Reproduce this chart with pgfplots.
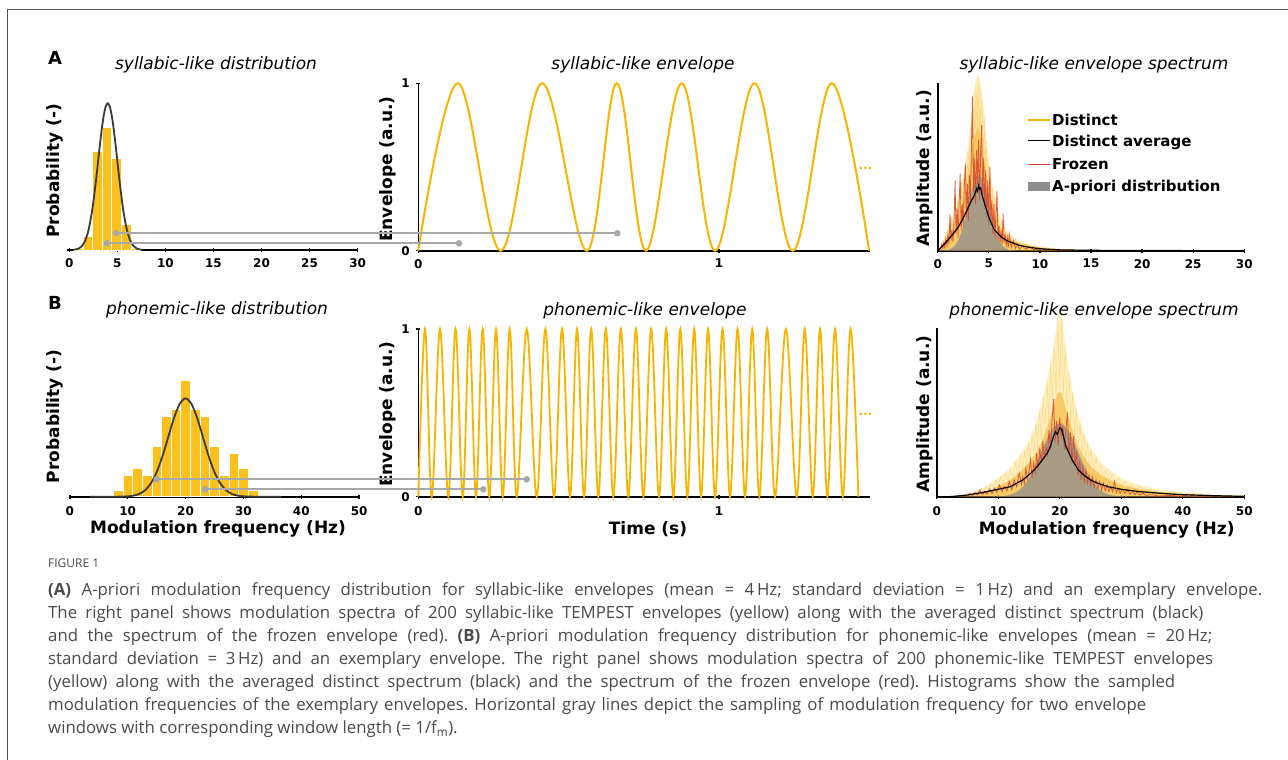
\documentclass[border=0pt]{standalone}
\usepackage{fontspec}
\setmainfont{DejaVu Sans}
\newfontfamily\capfont{Open Sans}
\usepackage{pgfplots}
\pgfplotsset{compat=1.18}
\definecolor{baryel}{HTML}{FBC01B}
\definecolor{envyel}{HTML}{F8B500}
\definecolor{gausscol}{HTML}{3A3A3A}
\definecolor{grayln}{HTML}{A8A8A8}
\definecolor{frozen}{HTML}{D5462B}
\definecolor{apriori}{HTML}{8E8E8E}
\definecolor{glow}{HTML}{FFD34E}
\definecolor{core}{HTML}{F4AE22}
\definecolor{streak}{HTML}{F9C23C}
\definecolor{capgray}{HTML}{4A4A4A}
\definecolor{framecol}{HTML}{555555}
\newcommand{\tickf}{\bfseries\fontsize{12}{14}\selectfont}
\newcommand{\labf}{\bfseries\fontsize{17}{20}\selectfont}
\newcommand{\titf}{\itshape\fontsize{17}{20}\selectfont}
\newcommand{\legf}{\bfseries\fontsize{15}{18}\selectfont}
\newcommand{\capf}{\capfont\fontsize{16.8}{19}\selectfont\color{capgray}\frenchspacing}
\pgfplotsset{
  base/.style={scale only axis, clip=false,
    tick style={line width=1.3pt, black},
    tick align=inside, major tick length=4pt,
    tick label style={font=\tickf},
    /pgf/number format/assume math mode=true},
  noarrow/.style={axis line style={line width=1.6pt, black, -},
    every outer x axis line/.append style={-},
    every outer y axis line/.append style={-},
    every inner x axis line/.append style={-},
    every inner y axis line/.append style={-},
    x axis line style={-}, y axis line style={-}},
}
\begin{document}
\begin{tikzpicture}
\fill[white] (0,0) rectangle (1288pt,-760pt);
\draw[framecol, line width=1pt] (7.5pt,-762pt) -- (7.5pt,-10pt) -- (1292pt,-10pt);

% panel letters and titles
\node[font=\bfseries\fontsize{18}{20}\selectfont] at (55pt,-58pt) {A};
\node[font=\bfseries\fontsize{18}{20}\selectfont] at (55pt,-303pt) {B};
\node[font=\titf] at (216pt,-65pt) {syllabic-like distribution};
\node[font=\titf] at (643pt,-65pt) {syllabic-like envelope};
\node[font=\titf] at (1094pt,-65pt) {syllabic-like envelope spectrum};
\node[font=\titf] at (217pt,-310pt) {phonemic-like distribution};
\node[font=\titf] at (645pt,-311pt) {phonemic-like envelope};
\node[font=\titf] at (1094pt,-311pt) {phonemic-like envelope spectrum};
% axis labels
\node[font=\labf, rotate=90] at (55pt,-170.8pt) {Probability (-)};
\node[font=\labf, rotate=90] at (388.3pt,-169pt) {Envelope (a.u.)};
\node[font=\labf, rotate=90] at (925pt,-168.3pt) {Amplitude (a.u.)};
\node[font=\labf, rotate=90] at (55pt,-416.3pt) {Probability (-)};
\node[font=\labf, rotate=90] at (388.3pt,-414pt) {Envelope (a.u.)};
\node[font=\labf, rotate=90] at (925pt,-414pt) {Amplitude (a.u.)};
\node[font=\labf] at (218pt,-529.3pt) {Modulation frequency (Hz)};
\node[font=\labf] at (648pt,-529.3pt) {Time (s)};
\node[font=\labf] at (1106.7pt,-530pt) {Modulation frequency (Hz)};
\node[font=\bfseries\fontsize{12}{14}\selectfont, text=envyel, anchor=base] at (865.5pt,-169pt) {...};
\node[font=\bfseries\fontsize{12}{14}\selectfont, text=envyel, anchor=base] at (865.5pt,-415.3pt) {...};

% ---------- A histogram
\begin{axis}[base, at={(66.7pt,-250pt)}, anchor=south west, width=291.6pt, height=170pt,
  xmin=-0.27, xmax=30.07, ymin=0, ymax=170, axis x line=bottom, axis y line=none, noarrow,
  xtick={0,5,...,30}, ytick=\empty, xticklabel style={yshift=-3pt}]
\addplot[ybar interval, fill=baryel, draw=white, line width=0.6pt] coordinates {
 (0.42,1.7) (1.42,13.3) (2.42,99) (3.42,122.7) (4.42,91.7) (5.42,25.7) (6.42,1.7) (7.42,1.7)};
\addplot[gausscol, line width=1.8pt, smooth] coordinates {
 (0.4,0.22) (0.8,0.88) (1.2,2.91) (1.6,8.24) (2.0,19.85) (2.4,40.8) (2.8,71.4) (3.0,89.0)
 (3.2,106.5) (3.4,122.5) (3.6,135.4) (3.8,143.8) (4.0,146.7) (4.2,143.8) (4.4,135.4)
 (4.6,122.5) (4.8,106.5) (5.0,89.0) (5.2,71.4) (5.6,40.8) (6.0,19.85) (6.4,8.24)
 (6.8,2.91) (7.2,0.88) (7.6,0.22)};
\end{axis}

% ---------- B histogram
\begin{axis}[base, at={(69.3pt,-496.7pt)}, anchor=south west, width=290.7pt, height=170pt,
  xmin=-0.1, xmax=50.15, ymin=0, ymax=170, axis x line=bottom, axis y line=none, noarrow,
  xtick={0,10,...,50}, ytick=\empty, xticklabel style={yshift=-4.5pt}]
\addplot[ybar interval, fill=baryel, draw=white, line width=0.6pt] coordinates {
 (7.5,6.7) (9.17,21.7) (10.83,28.3) (12.5,21.7) (14.17,50.7) (15.83,80) (17.5,87.3)
 (19.17,116.7) (20.83,87.3) (22.5,80) (24.17,50.7) (25.83,21.7) (27.5,43.3)
 (29.17,28.3) (30.83,6.7) (32.5,6.7)};
\addplot[gausscol, line width=1.8pt, smooth] coordinates {
 (3.5,0) (6,0.005) (8,0.03) (9,0.12) (10,0.38) (11,1.09) (12,2.81) (13,6.46) (14,13.3)
 (15,24.5) (16,40.4) (17,59.6) (18,78.7) (19,93.0) (20,98.3) (21,93.0) (22,78.7)
 (23,59.6) (24,40.4) (25,24.5) (26,13.3) (27,6.46) (28,2.81) (29,1.09) (30,0.38)
 (31,0.12) (32,0.03) (34,0.005) (36.5,0)};
\end{axis}

% ---------- A envelope
\begin{axis}[base, at={(418.3pt,-250.7pt)}, anchor=south west, width=451.7pt, height=167.4pt,
  xmin=0, xmax=1.502, ymin=0, ymax=1, axis x line=bottom, axis y line=left, noarrow,
  xtick={0,1}, ytick={0,1}, xticklabel style={yshift=-3pt}, yticklabel style={xshift=-3pt}]
\addplot[envyel, line width=2pt, smooth, tension=0.6] coordinates {
 (0,0) (0.131,1) (0.274,0) (0.412,1) (0.560,0) (0.660,1) (0.757,0) (0.876,1)
 (0.987,0) (1.118,1) (1.245,0) (1.375,1) (1.499,0)};
\addplot[grayln, line width=1.8pt, mark=*, mark size=2.3pt, mark options={fill=grayln, draw=grayln}]
 coordinates {(-1.005,0.104) (0.6618,0.104)};
\addplot[grayln, line width=1.8pt, mark=*, mark size=2.3pt, mark options={fill=grayln, draw=grayln}]
 coordinates {(-1.0363,0.0442) (0.1354,0.0442)};
\end{axis}

% ---------- B envelope
\begin{axis}[base, at={(418.3pt,-496.7pt)}, anchor=south west, width=451.7pt, height=167.7pt,
  xmin=0, xmax=1.502, ymin=0, ymax=1, axis x line=bottom, axis y line=left, noarrow,
  xtick={0,1}, ytick={0,1}, xticklabel style={yshift=-4.5pt}, yticklabel style={xshift=-3pt}]
\addplot[envyel, line width=1.8pt, smooth, tension=0.6] coordinates {
 (0,0) (0.0223,1) (0.0446,0) (0.0722,1) (0.0998,0) (0.1238,1) (0.1477,0) (0.1698,1)
 (0.1919,0) (0.2140,1) (0.2361,0) (0.2584,1) (0.2807,0) (0.3040,1) (0.3272,0) (0.3605,1)
 (0.3937,0) (0.4225,1) (0.4513,0) (0.4779,1) (0.5045,0) (0.5278,1) (0.5511,0) (0.5749,1)
 (0.5986,0) (0.6236,1) (0.6485,0) (0.6735,1) (0.6984,0) (0.7234,1) (0.7483,0) (0.7744,1)
 (0.8005,0) (0.8243,1) (0.8480,0) (0.8713,1) (0.8946,0) (0.9174,1) (0.9402,0) (0.9635,1)
 (0.9867,0) (1.0117,1) (1.0366,0) (1.0616,1) (1.0865,0) (1.1103,1) (1.1340,0) (1.1601,1)
 (1.1862,0) (1.2223,1) (1.2584,0) (1.2850,1) (1.3116,0) (1.3359,1) (1.3602,0) (1.3858,1)
 (1.4114,0) (1.4374,1) (1.4633,0)};
\addplot[grayln, line width=1.8pt, mark=*, mark size=2.3pt, mark options={fill=grayln, draw=grayln}]
 coordinates {(-0.870,0.1038) (0.3605,0.1038)};
\addplot[grayln, line width=1.8pt, mark=*, mark size=2.3pt, mark options={fill=grayln, draw=grayln}]
 coordinates {(-0.7093,0.0441) (0.2162,0.0441)};
\end{axis}

% ---------- A spectrum
\begin{axis}[base, at={(937.7pt,-250.7pt)}, anchor=south west, width=306.6pt, height=167.4pt,
  xmin=0, xmax=30, ymin=0, ymax=1, axis x line=bottom, axis y line=left, noarrow,
  xtick={0,5,...,30}, ytick=\empty, xticklabel style={yshift=-3pt}]
\addplot[fill=glow, fill opacity=0.35, draw=none] coordinates {
 (0,0) (0.5,0.06) (1,0.14) (1.5,0.22) (2,0.32) (2.5,0.45) (3,0.62) (3.3,0.8) (3.6,0.97)
 (3.9,1.06) (4.2,1.0) (4.5,0.85) (4.8,0.65) (5.2,0.45) (5.6,0.32) (6,0.22) (6.5,0.15)
 (7,0.1) (8,0.06) (9,0.04) (10,0.027) (11,0.018) (12,0.012) (14,0.006) (17,0.003)
 (20,0.001) (25,0)} \closedcycle;
\addplot[streak, line width=0.6pt, opacity=0.5] coordinates {
 (0.55,0.05) (0.65,0.02) (0.75,0.09) (0.85,0.04) (0.95,0.12) (1.05,0.05) (1.15,0.14)
 (1.25,0.07) (1.35,0.2) (1.45,0.09) (1.55,0.18) (1.65,0.1) (1.75,0.27) (1.85,0.13)
 (1.95,0.3) (2.05,0.15) (2.15,0.36) (2.25,0.18) (2.35,0.42) (2.45,0.2) (2.55,0.44)
 (2.65,0.25) (2.75,0.55) (2.85,0.3) (2.95,0.6) (3.05,0.35) (3.15,0.7) (3.25,0.4)
 (3.35,0.8) (3.45,0.5) (3.55,0.95) (3.65,0.55) (3.75,1.0) (3.85,0.6) (3.95,1.04)
 (4.05,0.62) (4.15,0.98) (4.25,0.55) (4.35,0.9) (4.45,0.5) (4.55,0.8) (4.65,0.42)
 (4.75,0.66) (4.85,0.35) (4.95,0.55) (5.05,0.28) (5.15,0.46) (5.25,0.22) (5.35,0.38)
 (5.45,0.2) (5.55,0.32) (5.65,0.15) (5.75,0.27) (5.85,0.13) (5.95,0.22) (6.1,0.1)
 (6.25,0.17) (6.4,0.08) (6.55,0.14) (6.7,0.06) (6.85,0.1) (7.0,0.05) (7.2,0.08)
 (7.4,0.04) (7.6,0.065) (7.8,0.03) (8.0,0.05) (8.3,0.025) (8.6,0.04) (9.0,0.02)
 (9.5,0.03) (10,0.01)};
\addplot[fill=core, fill opacity=0.55, draw=none] coordinates {
 (0,0) (0.5,0.04) (1,0.09) (1.5,0.14) (2,0.21) (2.5,0.3) (3,0.42) (3.3,0.55) (3.6,0.68)
 (3.9,0.74) (4.2,0.68) (4.5,0.56) (4.8,0.43) (5.2,0.3) (5.6,0.21) (6,0.15) (6.5,0.1)
 (7,0.07) (8,0.045) (9,0.03) (10,0.02) (12,0.009) (15,0.003) (20,0)} \closedcycle;
\addplot[fill=apriori, fill opacity=0.75, draw=none, smooth] coordinates {
 (0.6,0.001) (0.8,0.0027) (1.2,0.009) (1.6,0.0254) (2.0,0.0612) (2.4,0.1257) (2.8,0.22)
 (3.0,0.274) (3.2,0.328) (3.4,0.3776) (3.6,0.4172) (3.8,0.443) (4.0,0.452) (4.2,0.443)
 (4.4,0.4172) (4.6,0.3776) (4.8,0.328) (5.0,0.274) (5.2,0.22) (5.6,0.1257) (6.0,0.0612)
 (6.4,0.0254) (6.8,0.009) (7.2,0.0027) (7.4,0.001)} \closedcycle;
\addplot[frozen, line width=0.8pt, opacity=0.85] coordinates {
 (0.3,0.01) (0.4,0.04) (0.5,0.015) (0.6,0.05) (0.7,0.02) (0.8,0.07) (0.9,0.03) (1.0,0.09)
 (1.1,0.04) (1.2,0.22) (1.3,0.06) (1.4,0.12) (1.5,0.05) (1.6,0.18) (1.7,0.42) (1.8,0.10)
 (1.9,0.25) (2.0,0.08) (2.1,0.30) (2.2,0.46) (2.3,0.12) (2.4,0.28) (2.5,0.15) (2.6,0.38)
 (2.7,0.52) (2.8,0.20) (2.9,0.40) (3.0,0.18) (3.1,0.45) (3.2,0.30) (3.3,0.62) (3.4,0.92)
 (3.5,0.35) (3.6,0.55) (3.7,0.28) (3.8,0.60) (3.9,0.40) (4.0,0.66) (4.1,0.30) (4.2,0.58)
 (4.3,0.75) (4.4,0.32) (4.5,0.55) (4.6,0.25) (4.7,0.48) (4.8,0.20) (4.9,0.42) (5.0,0.15)
 (5.1,0.50) (5.2,0.18) (5.3,0.30) (5.4,0.10) (5.5,0.28) (5.6,0.08) (5.7,0.22) (5.8,0.36)
 (5.9,0.07) (6.0,0.15) (6.1,0.05) (6.2,0.12) (6.3,0.04) (6.4,0.22) (6.5,0.05) (6.6,0.09)
 (6.7,0.03) (6.8,0.08) (6.9,0.02) (7.0,0.10) (7.2,0.02) (7.4,0.06) (7.6,0.015) (7.8,0.04)
 (8.0,0.01) (8.3,0.03) (8.6,0.01) (9.0,0.02) (9.5,0.005) (10,0.01) (11,0.003) (12,0.004) (13,0)};
\addplot[black, line width=1.2pt] coordinates {
 (0,0) (0.5,0.03) (1,0.064) (1.5,0.10) (2,0.14) (2.5,0.195) (3,0.26) (3.3,0.30) (3.5,0.32)
 (3.7,0.35) (3.8,0.37) (3.9,0.355) (4.0,0.39) (4.1,0.37) (4.2,0.375) (4.35,0.33) (4.5,0.30)
 (4.75,0.25) (5,0.20) (5.5,0.13) (6,0.094) (6.5,0.07) (7,0.054) (8,0.032) (9,0.02)
 (10,0.012) (11,0.008) (12,0.005) (14,0.003) (17,0.0015) (20,0.001) (25,0.0005) (30,0)};
\end{axis}

% ---------- B spectrum
\begin{axis}[base, at={(936.7pt,-496.7pt)}, anchor=south west, width=307.6pt, height=168.4pt,
  xmin=0, xmax=50, ymin=0, ymax=1, axis x line=bottom, axis y line=left, noarrow,
  xtick={0,10,...,50}, ytick=\empty, xticklabel style={yshift=-4.5pt}]
\addplot[fill=glow, fill opacity=0.35, draw=none] coordinates {
 (2,0) (4,0.01) (6,0.03) (8,0.06) (10,0.11) (12,0.17) (14,0.27) (15,0.33) (16,0.42)
 (17,0.54) (18,0.7) (19,0.88) (19.6,1.05) (20.0,1.1) (20.4,1.05) (21,0.86) (22,0.64)
 (23,0.48) (24,0.37) (25,0.29) (27,0.19) (30,0.11) (33,0.07) (36,0.045) (40,0.025)
 (45,0.012) (50,0.005)} \closedcycle;
\addplot[streak, line width=0.5pt, opacity=0.45] coordinates {
 (6,0.02) (6.4,0.035) (6.8,0.02) (7.2,0.05) (7.6,0.03) (8,0.065) (8.4,0.04) (8.8,0.08)
 (9.2,0.05) (9.6,0.1) (10,0.06) (10.4,0.12) (10.8,0.07) (11.2,0.14) (11.6,0.09) (12,0.17)
 (12.4,0.1) (12.8,0.2) (13.2,0.12) (13.6,0.25) (14,0.15) (14.3,0.28) (14.6,0.18) (14.9,0.33)
 (15.2,0.2) (15.5,0.38) (15.8,0.24) (16.1,0.45) (16.4,0.28) (16.7,0.52) (17,0.33) (17.3,0.6)
 (17.6,0.4) (17.9,0.7) (18.2,0.45) (18.5,0.8) (18.8,0.55) (19.1,0.92) (19.4,0.6) (19.7,1.05)
 (20.0,0.65) (20.3,1.08) (20.6,0.6) (20.9,0.9) (21.2,0.5) (21.5,0.75) (21.8,0.42) (22.1,0.62)
 (22.4,0.35) (22.7,0.52) (23,0.3) (23.3,0.45) (23.6,0.25) (23.9,0.38) (24.2,0.2) (24.5,0.32)
 (24.8,0.17) (25.1,0.28) (25.5,0.14) (25.9,0.23) (26.3,0.12) (26.7,0.19) (27.1,0.1)
 (27.5,0.16) (28,0.08) (28.5,0.13) (29,0.07) (29.5,0.11) (30,0.06) (30.6,0.09) (31.2,0.05)
 (31.8,0.07) (32.4,0.04) (33,0.06) (34,0.03) (35,0.045) (36,0.02) (38,0.03) (40,0.015)
 (42,0.02) (45,0.008) (48,0.006) (50,0.003)};
\addplot[fill=core, fill opacity=0.55, draw=none] coordinates {
 (3,0) (5,0.01) (8,0.03) (10,0.06) (12,0.1) (14,0.16) (16,0.25) (17,0.32) (18,0.42)
 (19,0.54) (19.7,0.62) (20.3,0.62) (21,0.52) (22,0.4) (23,0.3) (24,0.23) (25,0.18)
 (27,0.12) (30,0.07) (33,0.045) (36,0.03) (40,0.016) (45,0.008) (50,0.003)} \closedcycle;
\addplot[fill=apriori, fill opacity=0.75, draw=none, smooth] coordinates {
 (9,0.0005) (10,0.0017) (11,0.0048) (12,0.0125) (13,0.0287) (14,0.059) (15,0.1087)
 (16,0.1793) (17,0.2644) (18,0.349) (19,0.4125) (20,0.436) (21,0.4125) (22,0.349)
 (23,0.2644) (24,0.1793) (25,0.1087) (26,0.059) (27,0.0287) (28,0.0125) (29,0.0048)
 (30,0.0017) (31,0.0005)} \closedcycle;
\addplot[frozen, line width=0.8pt, opacity=0.85] coordinates {
 (5.0,0.005) (5.4,0.02) (5.8,0.008) (6.2,0.025) (6.6,0.01) (7.0,0.04) (7.4,0.012) (7.8,0.03)
 (8.2,0.015) (8.6,0.045) (9.0,0.02) (9.4,0.05) (9.8,0.025) (10.2,0.07) (10.6,0.03) (11.0,0.06)
 (11.4,0.035) (11.8,0.09) (12.2,0.04) (12.6,0.1) (13.0,0.06) (13.4,0.14) (13.8,0.07)
 (14.0,0.12) (14.25,0.08) (14.5,0.17) (14.75,0.1) (15.0,0.15) (15.25,0.22) (15.5,0.11)
 (15.75,0.2) (16.0,0.14) (16.25,0.26) (16.5,0.16) (16.75,0.29) (17.0,0.2) (17.25,0.33)
 (17.5,0.22) (17.75,0.3) (18.0,0.25) (18.25,0.4) (18.5,0.28) (18.75,0.45) (19.0,0.58)
 (19.25,0.33) (19.5,0.45) (19.75,0.3) (20.0,0.47) (20.25,0.36) (20.5,0.42) (20.75,0.28)
 (21.0,0.4) (21.25,0.5) (21.5,0.25) (21.75,0.38) (22.0,0.2) (22.25,0.36) (22.5,0.18)
 (22.75,0.27) (23.0,0.13) (23.25,0.22) (23.5,0.1) (23.75,0.18) (24.0,0.09) (24.25,0.16)
 (24.5,0.08) (24.75,0.13) (25.0,0.07) (25.3,0.12) (25.6,0.06) (25.9,0.1) (26.2,0.05)
 (26.5,0.09) (26.8,0.04) (27.1,0.08) (27.4,0.035) (27.7,0.07) (28.0,0.03) (28.3,0.06)
 (28.6,0.03) (28.9,0.09) (29.2,0.025) (29.5,0.05) (29.8,0.02) (30.2,0.045) (30.6,0.02)
 (31.0,0.04) (31.4,0.015) (31.8,0.035) (32.2,0.012) (32.6,0.03) (33.0,0.01) (33.5,0.02)
 (34.0,0.008) (35.0,0.012) (36,0.004) (38,0.008) (40,0.003) (41,0.012) (42,0.002) (45,0.004) (50,0)};
\addplot[black, line width=1.2pt] coordinates {
 (2,0) (3,0.003) (5,0.01) (7,0.022) (10,0.044) (12,0.06) (13,0.08) (14,0.10) (15,0.13)
 (16,0.165) (17,0.21) (18,0.26) (18.5,0.30) (19,0.36) (19.3,0.385) (19.6,0.37) (20,0.41)
 (20.3,0.40) (20.6,0.36) (21,0.30) (21.5,0.26) (22,0.22) (23,0.16) (24,0.125) (25,0.10)
 (26,0.082) (28,0.058) (30,0.044) (33,0.03) (35,0.024) (38,0.016) (40,0.012) (45,0.006) (50,0.002)};
\end{axis}

% legend (A spectrum)
\draw[envyel, line width=1.5pt] (1027.7pt,-120pt) -- (1050pt,-120pt);
\draw[black, line width=1.5pt] (1027.7pt,-140.7pt) -- (1050pt,-140.7pt);
\draw[frozen, line width=1.5pt] (1027.7pt,-164.3pt) -- (1050pt,-164.3pt);
\fill[apriori] (1027.7pt,-181.7pt) rectangle (1050pt,-190.7pt);
\node[font=\legf, anchor=base west, inner sep=0pt] at (1052pt,-125.5pt) {Distinct};
\node[font=\legf, anchor=base west, inner sep=0pt] at (1052pt,-146.2pt) {Distinct average};
\node[font=\legf, anchor=base west, inner sep=0pt] at (1052pt,-169.8pt) {Frozen};
\node[font=\legf, anchor=base west, inner sep=0pt] at (1052pt,-191.2pt) {A-priori distribution};

% caption
\node[font=\capfont\fontsize{12}{14}\selectfont, text=capgray, anchor=base west, inner sep=0pt] at (48pt,-567.5pt) {FIGURE 1};
\node[font=\capf, anchor=base west, inner sep=0pt] at (48pt,-595.5pt) {\makebox[1214pt][s]{\textbf{(A)} A-priori modulation frequency distribution for syllabic-like envelopes (mean = 4\,Hz; standard deviation = 1\,Hz) and an exemplary envelope.}};
\node[font=\capf, anchor=base west, inner sep=0pt] at (48pt,-618.5pt) {\makebox[1155pt][s]{The right panel shows modulation spectra of 200 syllabic-like TEMPEST envelopes (yellow) along with the averaged distinct spectrum (black)}};
\node[font=\capf, anchor=base west, inner sep=0pt] at (48pt,-641.5pt) {\makebox[1164pt][s]{and the spectrum of the frozen envelope (red). \textbf{(B)} A-priori modulation frequency distribution for phonemic-like envelopes (mean = 20\,Hz;}};
\node[font=\capf, anchor=base west, inner sep=0pt] at (48pt,-664.5pt) {\makebox[1165pt][s]{standard deviation = 3\,Hz) and an exemplary envelope. The right panel shows modulation spectra of 200 phonemic-like TEMPEST envelopes}};
\node[font=\capf, anchor=base west, inner sep=0pt] at (48pt,-687.5pt) {\makebox[1127pt][s]{(yellow) along with the averaged distinct spectrum (black) and the spectrum of the frozen envelope (red). Histograms show the sampled}};
\node[font=\capf, anchor=base west, inner sep=0pt] at (48pt,-710.5pt) {\makebox[1098pt][s]{modulation frequencies of the exemplary envelopes. Horizontal gray lines depict the sampling of modulation frequency for two envelope}};
\node[font=\capf, anchor=base west, inner sep=0pt] at (48pt,-733.5pt) {windows with corresponding window length (= 1/f\textsubscript{m}).};

\pgfresetboundingbox
\path (0,0) rectangle (1288pt,-760pt);
\end{tikzpicture}
\end{document}
